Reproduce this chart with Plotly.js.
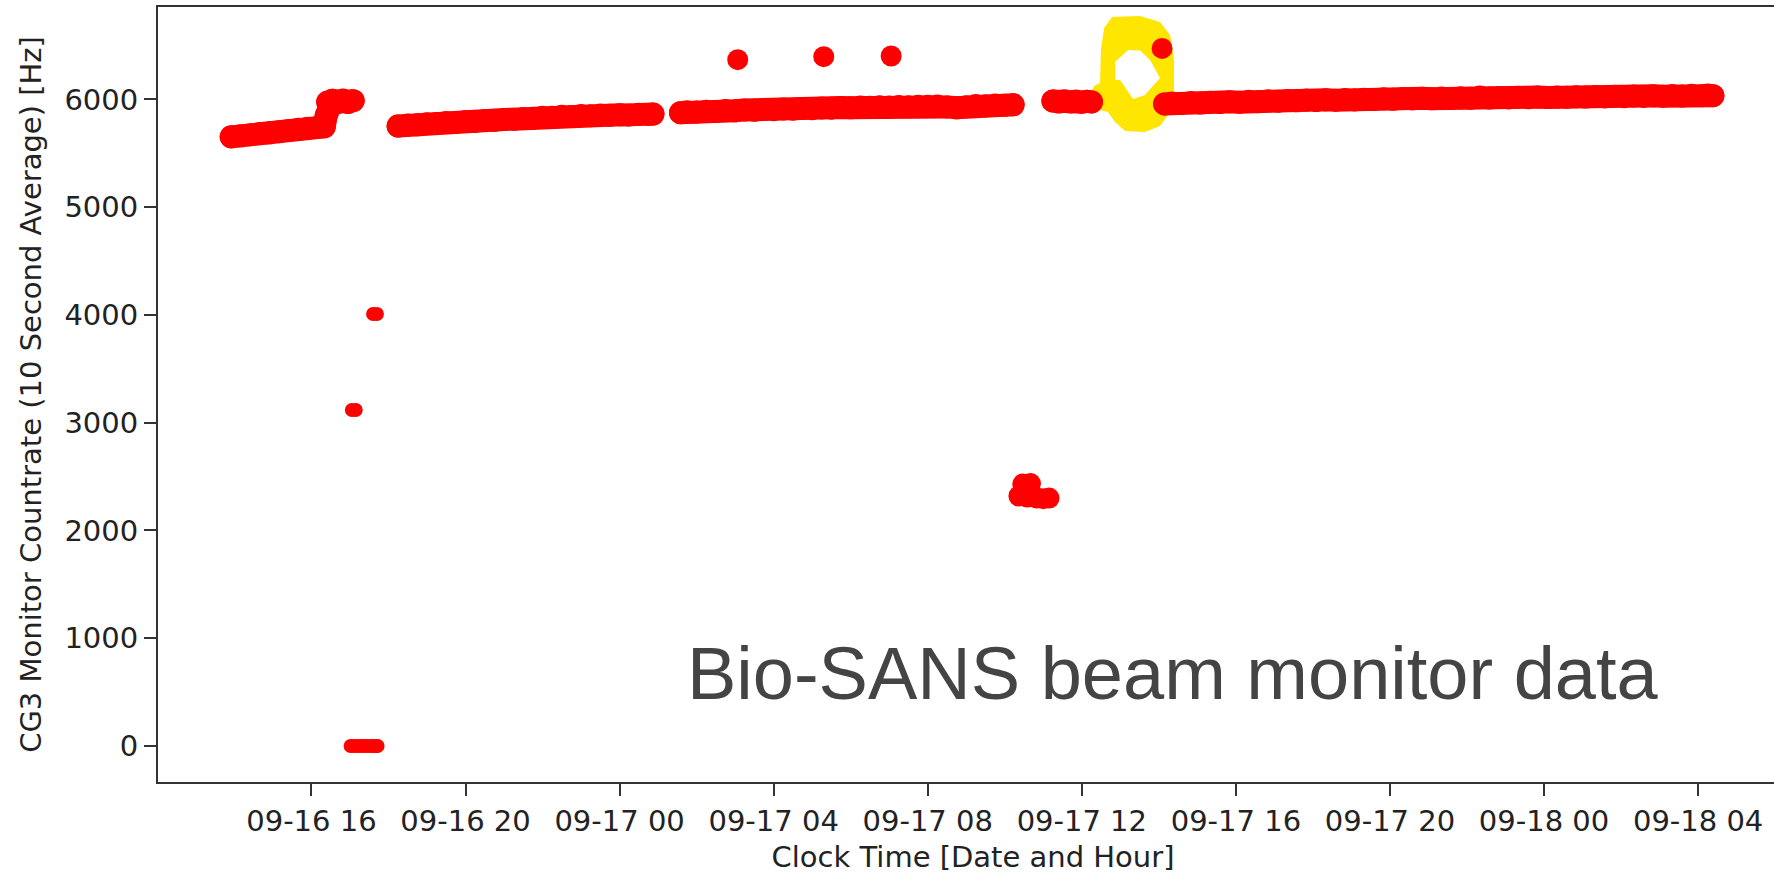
<!DOCTYPE html>
<html>
<head>
<meta charset="utf-8">
<script src="https://cdn.plot.ly/plotly-3.0.1.min.js"></script>
<style>
html,body{margin:0;padding:0;width:1774px;height:874px;overflow:hidden;background:#fff;}
#chart{width:1790px;height:874px;}
#chart path.js-line{stroke-linejoin:round !important;stroke-linecap:round !important;}
</style>
</head>
<body>
<div id="chart"></div>
<script>
// ---- data ----
// continuous running periods (null = no data between runs)
const bandTimes = [
  // 09-16 afternoon
  '2023-09-16 13:55','2023-09-16 14:10','2023-09-16 14:25','2023-09-16 14:40','2023-09-16 14:55','2023-09-16 15:10',
  '2023-09-16 15:25','2023-09-16 15:40','2023-09-16 15:55','2023-09-16 16:10','2023-09-16 16:20','2023-09-16 16:23',
  '2023-09-16 16:25','2023-09-16 16:33','2023-09-16 16:41','2023-09-16 16:49','2023-09-16 16:57','2023-09-16 17:05',
  '2023-09-16 17:40',
  // 09-16 evening to 09-17 01:00
  '2023-09-16 18:15','2023-09-16 18:30','2023-09-16 18:45','2023-09-16 19:00','2023-09-16 19:15','2023-09-16 19:30',
  '2023-09-16 19:45','2023-09-16 20:00','2023-09-16 20:15','2023-09-16 20:30','2023-09-16 20:45','2023-09-16 21:00',
  '2023-09-16 21:15','2023-09-16 21:30','2023-09-16 21:45','2023-09-16 22:00','2023-09-16 22:15','2023-09-16 22:30',
  '2023-09-16 22:45','2023-09-16 23:00','2023-09-16 23:15','2023-09-16 23:30','2023-09-16 23:45','2023-09-17 00:00',
  '2023-09-17 00:15','2023-09-17 00:30','2023-09-17 00:45','2023-09-17 00:52',
  '2023-09-17 01:14',
  // 09-17 01:30 to 10:15
  '2023-09-17 01:35','2023-09-17 01:45','2023-09-17 02:00','2023-09-17 02:15','2023-09-17 02:30','2023-09-17 02:45',
  '2023-09-17 03:00','2023-09-17 03:15','2023-09-17 03:30','2023-09-17 03:45','2023-09-17 04:00','2023-09-17 04:15',
  '2023-09-17 04:30','2023-09-17 04:45','2023-09-17 05:00','2023-09-17 05:15','2023-09-17 05:30','2023-09-17 05:45',
  '2023-09-17 06:00','2023-09-17 06:15','2023-09-17 06:30','2023-09-17 06:45','2023-09-17 07:00','2023-09-17 07:15',
  '2023-09-17 07:30','2023-09-17 07:45','2023-09-17 08:00','2023-09-17 08:15','2023-09-17 08:30','2023-09-17 08:45',
  '2023-09-17 09:00','2023-09-17 09:15','2023-09-17 09:30','2023-09-17 09:45','2023-09-17 10:00','2023-09-17 10:13',
  '2023-09-17 10:45',
  // 09-17 11:15 to 12:15
  '2023-09-17 11:15','2023-09-17 11:24','2023-09-17 11:33','2023-09-17 11:42','2023-09-17 11:51','2023-09-17 12:00',
  '2023-09-17 12:08','2023-09-17 12:15',
  '2023-09-17 13:10',
  // 09-17 14:09 to 09-18 04:23
  '2023-09-17 14:09','2023-09-17 14:20','2023-09-17 14:35','2023-09-17 14:50','2023-09-17 15:05','2023-09-17 15:20',
  '2023-09-17 15:35','2023-09-17 15:50','2023-09-17 16:05','2023-09-17 16:20','2023-09-17 16:35','2023-09-17 16:50',
  '2023-09-17 17:05','2023-09-17 17:20','2023-09-17 17:35','2023-09-17 17:50','2023-09-17 18:05','2023-09-17 18:20',
  '2023-09-17 18:35','2023-09-17 18:50','2023-09-17 19:05','2023-09-17 19:20','2023-09-17 19:35','2023-09-17 19:50',
  '2023-09-17 20:05','2023-09-17 20:20','2023-09-17 20:35','2023-09-17 20:50','2023-09-17 21:05','2023-09-17 21:20',
  '2023-09-17 21:35','2023-09-17 21:50','2023-09-17 22:05','2023-09-17 22:20','2023-09-17 22:35','2023-09-17 22:50',
  '2023-09-17 23:05','2023-09-17 23:20','2023-09-17 23:35','2023-09-17 23:50','2023-09-18 00:05','2023-09-18 00:20',
  '2023-09-18 00:35','2023-09-18 00:50','2023-09-18 01:05','2023-09-18 01:20','2023-09-18 01:35','2023-09-18 01:50',
  '2023-09-18 02:05','2023-09-18 02:20','2023-09-18 02:35','2023-09-18 02:50','2023-09-18 03:05','2023-09-18 03:20',
  '2023-09-18 03:35','2023-09-18 03:50','2023-09-18 04:05','2023-09-18 04:15','2023-09-18 04:23'
];
const bandRates = [
  5652,5662,5672,5684,5690,5700,
  5712,5722,5732,5742,5745,5850,
  5975,5992,5972,5995,5970,5988,
  null,
  5752,5762,5764,5774,5776,5786,
  5786,5795,5796,5805,5806,5814,
  5815,5823,5824,5833,5834,5843,
  5842,5850,5848,5854,5852,5858,
  5856,5862,5860,5864,
  null,
  5876,5884,5882,5890,5888,5896,
  5894,5902,5899,5906,5904,5911,
  5909,5916,5914,5920,5918,5924,
  5922,5928,5926,5931,5929,5934,
  5932,5937,5935,5938,5930,5922,
  5932,5944,5940,5948,5945,5950,
  null,
  5985,5975,5988,5976,5984,5974,
  5982,5976,
  null,
  5958,5966,5962,5970,5966,5974,
  5970,5978,5974,5982,5978,5986,
  5982,5990,5986,5993,5989,5996,
  5992,5999,5995,6002,5998,6005,
  6001,6008,6004,6010,6006,6012,
  6008,6014,6010,6022,6012,6017,
  6013,6019,6015,6021,6017,6023,
  6019,6025,6021,6027,6023,6029,
  6025,6031,6027,6033,6029,6035,
  6031,6038,6034,6040,6034
];
// isolated readings: high outliers and the reduced-beam cluster near 09-17 10:30
const isolatedTimes = [
  '2023-09-17 03:04','2023-09-17 05:18','2023-09-17 07:03','2023-09-17 14:05',
  '2023-09-17 10:22','2023-09-17 10:28','2023-09-17 10:40','2023-09-17 10:35','2023-09-17 10:50','2023-09-17 11:00','2023-09-17 11:09'
];
const isolatedRates = [6368,6396,6402,6473, 2320,2430,2435,2310,2300,2295,2300];
// beam-off interval and partial 10 s averages
const spikeTimes = [
  '2023-09-16 17:03','2023-09-16 17:09',
  '2023-09-16 17:01','2023-09-16 17:06','2023-09-16 17:11','2023-09-16 17:16','2023-09-16 17:21',
  '2023-09-16 17:26','2023-09-16 17:31','2023-09-16 17:36','2023-09-16 17:41','2023-09-16 17:43',
  '2023-09-16 17:36','2023-09-16 17:42'
];
const spikeRates = [3117,3117, 0,0,0,0,0,0,0,0,0,0, 4008,4008];

const xTickVals = ['2023-09-16 16:00','2023-09-16 20:00','2023-09-17 00:00','2023-09-17 04:00','2023-09-17 08:00',
  '2023-09-17 12:00','2023-09-17 16:00','2023-09-17 20:00','2023-09-18 00:00','2023-09-18 04:00'];
const xTickText = ['09-16 16','09-16 20','09-17 00','09-17 04','09-17 08','09-17 12','09-17 16','09-17 20','09-18 00','09-18 04'];
const yTickVals = [0,1000,2000,3000,4000,5000,6000];
const yTickText = ['0','1000','2000','3000','4000','5000','6000'];

const xTitle = 'Clock Time [Date and Hour]';
const yTitle = 'CG3 Monitor Countrate (10 Second Average) [Hz]';
const noteText = 'Bio-SANS beam monitor data';

// ---- chart ----
const RED = '#ff0000';
const tickFont = {family:'DejaVu Sans', size:29, color:'#222'};
const traces = [
  {type:'scatter', mode:'lines+markers', x:bandTimes, y:bandRates, connectgaps:false,
   line:{color:RED, width:23}, marker:{color:RED, size:23, line:{width:0}}, hoverinfo:'skip'},
  {type:'scatter', mode:'markers', x:isolatedTimes, y:isolatedRates,
   marker:{color:RED, size:21, line:{width:0}}, hoverinfo:'skip'},
  {type:'scatter', mode:'markers', x:spikeTimes, y:spikeRates,
   marker:{color:RED, size:14, line:{width:0}}, hoverinfo:'skip'}
];
const axisLine = {showline:true, linecolor:'#333', linewidth:2, ticks:'outside', ticklen:12, tickwidth:2,
  tickcolor:'#333', showgrid:false, zeroline:false, automargin:false, tickfont:tickFont};
const layout = {
  width:1790, height:874,
  margin:{l:158, r:2, t:7, b:92, pad:0},
  paper_bgcolor:'#fff', plot_bgcolor:'#fff',
  showlegend:false,
  xaxis:Object.assign({}, axisLine, {
    type:'date', range:['2023-09-16 12:01','2023-09-18 06:20'],
    tickmode:'array', tickvals:xTickVals, ticktext:xTickText, mirror:true,
    title:{text:xTitle, font:tickFont, standoff:14}
  }),
  yaxis:Object.assign({}, axisLine, {
    range:[-334, 6857], tickmode:'array', tickvals:yTickVals, ticktext:yTickText,
    title:{text:yTitle, font:tickFont, standoff:14}
  }),
  shapes:[{
    type:'path', xref:'paper', yref:'paper', layer:'below',
    fillcolor:'#ffe600', fillrule:'evenodd', line:{width:0},
    path:'M0.5853,0.9871 L0.6025,0.9884 L0.6147,0.9806 L0.6209,0.9639 L0.6233,0.9316 L0.6233,0.8865 ' +
         'L0.6209,0.8645 L0.6147,0.8465 L0.6055,0.8387 L0.5933,0.8400 L0.5871,0.8516 L0.5828,0.8645 ' +
         'L0.5730,0.8697 L0.5718,0.8865 L0.5742,0.8981 L0.5779,0.9019 L0.5785,0.9445 L0.5804,0.9729 Z ' +
         'M0.5951,0.9445 L0.6025,0.9439 L0.6086,0.9316 L0.6147,0.9084 L0.6055,0.8865 L0.5982,0.8813 ' +
         'L0.5902,0.9058 L0.5871,0.9058 L0.5871,0.9290 Z'
  }],
  annotations:[{
    xref:'paper', yref:'paper', x:0.6225, y:0.1394, xanchor:'center', yanchor:'middle',
    text:noteText, showarrow:false,
    font:{family:'Liberation Sans, Arial, sans-serif', size:74, color:'#444'}
  }]
};
Plotly.newPlot('chart', traces, layout, {staticPlot:true, displayModeBar:false});
</script>
</body>
</html>
